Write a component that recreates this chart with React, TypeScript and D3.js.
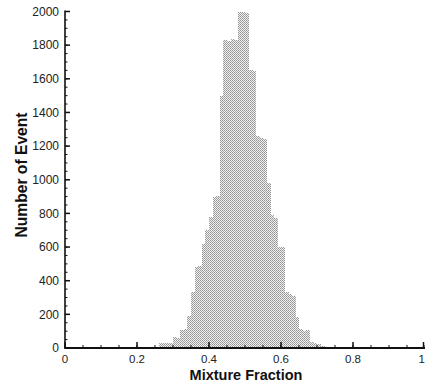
import React from "react";
import * as d3 from "d3";

const binStarts = [
  0.24, 0.25, 0.26, 0.27, 0.28, 0.29, 0.3, 0.31, 0.32, 0.33, 0.34, 0.35, 0.36,
  0.37, 0.38, 0.39, 0.4, 0.41, 0.42, 0.43, 0.44, 0.45, 0.46, 0.47, 0.48, 0.49,
  0.5, 0.51, 0.52, 0.53, 0.54, 0.55, 0.56, 0.57, 0.58, 0.59, 0.6, 0.61, 0.62,
  0.63, 0.64, 0.65, 0.66, 0.67, 0.68, 0.69, 0.7, 0.71, 0.72, 0.73, 0.74, 0.75,
];
const counts = [
  5, 8, 28, 30, 32, 30, 65, 62, 105, 110, 190, 330, 480, 485, 620, 700, 780,
  900, 905, 1500, 1830, 1825, 1835, 1830, 1995, 2000, 1990, 1650, 1645, 1260,
  1250, 1245, 980, 790, 770, 600, 600, 330, 320, 310, 185, 110, 100, 105, 35,
  30, 25, 12, 8, 6, 4, 3,
];
const binWidth = 0.01;
const xTicks = [0, 0.2, 0.4, 0.6, 0.8, 1];
const xTickLabels = ["0", "0.2", "0.4", "0.6", "0.8", "1"];
const xMinorTicks = d3.range(0, 1.0001, 0.05);
const yTicks = [0, 200, 400, 600, 800, 1000, 1200, 1400, 1600, 1800, 2000];
const yMinorTicks = d3.range(0, 2001, 50);
const xTitle = "Mixture Fraction";
const yTitle = "Number of Event";

export default function App() {
  const x = d3.scaleLinear().domain([0, 1]).range([65, 425]);
  const y = d3.scaleLinear().domain([0, 2000]).range([348, 11.5]);
  const font = "'Liberation Sans', Arial, Helvetica, sans-serif";
  return (
    <svg
      width={425}
      height={385}
      style={{ position: "absolute", left: 0, top: 0, background: "#fff" }}
    >
      <defs>
        <pattern id="dith" width={2} height={2} patternUnits="userSpaceOnUse">
          <rect x={0} y={0} width={2} height={2} fill="#f0f0f0" />
          <rect x={0} y={0} width={1} height={1} fill="#939393" />
          <rect x={1} y={1} width={1} height={1} fill="#a4a4a4" />
        </pattern>
      </defs>
      <g shapeRendering="crispEdges">
        {binStarts.map((b, i) => (
          <rect
            key={i}
            x={x(b)}
            width={x(b + binWidth) - x(b) + 0.3}
            y={y(counts[i])}
            height={y(0) - y(counts[i])}
            fill="url(#dith)"
          />
        ))}
      </g>
      {/* axes */}
      <g stroke="#111" fill="none">
        <line x1={x(0)} x2={425} y1={y(0)} y2={y(0)} strokeWidth={2} />
        <line x1={x(0)} x2={x(0)} y1={y(0) + 1} y2={y(2000) - 1} strokeWidth={1.6} />
        {xMinorTicks.map((t, i) => (
          <line key={"xm" + i} x1={x(t)} x2={x(t)} y1={y(0)} y2={y(0) - 3} strokeWidth={1} />
        ))}
        {xTicks.map((t, i) => (
          <line key={"xt" + i} x1={Math.min(x(t), 423.5)} x2={Math.min(x(t), 423.5)} y1={y(0)} y2={y(0) - 6} strokeWidth={1.5} />
        ))}
        {yMinorTicks.map((t, i) => (
          <line key={"ym" + i} x1={x(0)} x2={x(0) + 2.5} y1={y(t)} y2={y(t)} strokeWidth={1} />
        ))}
        {yTicks.map((t, i) => (
          <line key={"yt" + i} x1={x(0)} x2={x(0) + 5} y1={y(t)} y2={y(t)} strokeWidth={1.5} />
        ))}
      </g>
      <g fontFamily={font} fontSize={12} fill="#222">
        {yTicks.map((t, i) => (
          <text key={"yl" + i} x={x(0) - 6} y={y(t)} dy="0.35em" textAnchor="end">
            {t}
          </text>
        ))}
        {xTicks.map((t, i) => (
          <text
            key={"xl" + i}
            x={t === 1 ? 425 : x(t)}
            y={363}
            fontSize={11.5}
            textAnchor={t === 1 ? "end" : "middle"}
          >
            {xTickLabels[i]}
          </text>
        ))}
      </g>
      <text
        x={246}
        y={380}
        textAnchor="middle"
        fontFamily={font}
        fontWeight="bold"
        fontSize={14.5}
        fill="#111"
      >
        {xTitle}
      </text>
      <text
        transform="translate(27,175) rotate(-90)"
        textAnchor="middle"
        fontFamily={font}
        fontWeight="bold"
        fontSize={16}
        textLength={125}
        lengthAdjust="spacingAndGlyphs"
        fill="#111"
      >
        {yTitle}
      </text>
    </svg>
  );
}
